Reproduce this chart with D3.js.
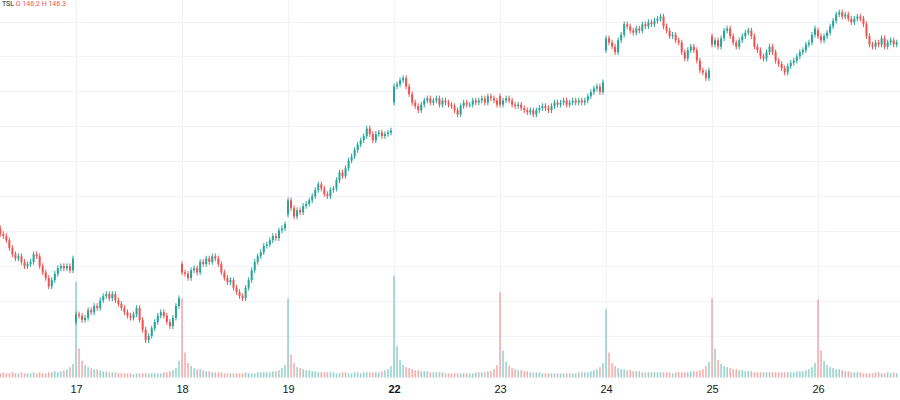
<!DOCTYPE html>
<html lang="en">
<head>
<meta charset="UTF-8">
<title>Candles</title>
<script src="https://d3js.org/d3.v7.min.js"></script>
<style>
  body { margin: 0; background: #fff; }
  svg { display: block; font-family: "Roboto", "Liberation Sans", sans-serif; }
  .grid line { stroke: #f0f3fa; stroke-width: 1; }
  .axis text { font-size: 11px; fill: #131722; }
  .axis path, .axis line { display: none; }
</style>
</head>
<body>
<svg width="900" height="400"></svg>
<script>
// day labels (16 is the cut-off day on the left)
var days = ["16", "17", "18", "19", "22", "23", "24", "25", "26"];
var dayOpens = [115.4, 102.0, 110.3, 117.4, 133.4, 134.3, 140.9, 142.9, 143.7];

var close16 = [114.6,114.3,113.7,112.6,111.7,111.1,111.4,110.6,110.0,110.3,110.6,111.7,111.4,110.0,109.1,108.3,107.1,108.0,108.9,109.7,110.0,109.7,110.0,109.4,111.1];
var close17 = [103.1,102.9,102.3,102.6,103.7,103.4,104.3,104.0,105.1,105.7,106.0,105.4,106.0,105.1,104.6,104.0,103.4,102.9,102.6,103.1,104.0,102.3,100.9,99.4,100.0,101.1,102.0,102.9,103.4,102.9,102.0,101.4,102.6,104.3,105.4];
var close18 = [109.1,108.9,108.3,109.4,109.7,109.1,110.6,110.3,111.1,110.6,111.4,111.1,110.3,109.1,108.3,107.7,108.0,106.9,106.3,105.7,105.4,106.9,108.0,109.4,110.6,111.4,112.0,112.9,113.1,113.7,114.3,114.0,115.1,115.4,116.0];
var close19 = [119.4,118.3,117.1,118.0,117.7,118.6,118.9,119.4,120.0,120.9,121.7,121.1,120.3,120.0,120.9,121.1,122.3,123.4,122.9,124.0,125.1,125.7,126.6,127.4,128.0,128.6,129.7,128.9,128.0,128.9,129.1,128.6,128.9,129.1,129.4];
var close22 = [135.7,136.0,136.6,136.9,135.7,134.6,133.4,132.9,132.3,133.1,133.7,134.0,133.4,133.7,134.0,133.1,133.7,133.4,133.1,132.9,132.3,131.7,132.9,133.4,133.1,133.1,133.7,133.4,133.7,134.0,133.4,134.3,134.0,133.7,133.1];
var close23 = [133.1,133.7,134.0,133.7,133.1,132.9,133.1,132.6,132.3,132.0,132.3,131.7,132.3,132.6,132.9,132.6,132.3,132.9,133.4,133.1,133.4,133.7,133.1,133.4,133.7,133.4,133.7,133.4,133.7,134.3,134.9,135.4,135.7,134.9,136.3];
var close24 = [142.6,142.0,141.4,140.6,142.3,143.1,144.6,144.3,143.7,143.4,144.0,143.7,144.6,144.3,144.9,144.6,145.1,145.4,145.7,144.3,143.7,142.9,143.1,142.3,142.0,140.6,139.7,140.9,141.4,140.9,139.4,138.0,137.7,136.9,138.0];
var close25 = [141.7,142.3,141.4,142.6,143.7,144.0,142.9,142.0,141.4,142.3,142.9,143.4,143.7,142.9,141.4,140.9,140.0,139.7,140.6,141.4,140.6,139.4,138.9,138.3,137.7,138.6,139.1,139.4,140.0,140.6,140.9,141.7,142.0,143.1,144.0];
var close26 = [142.9,142.3,142.9,143.4,144.3,145.1,146.0,146.3,145.7,146.0,145.4,144.9,145.4,145.7,145.4,144.6,142.9,141.7,141.4,142.0,141.7,142.6,141.4,142.0,142.3,141.7,142.0];

var vol16 = [4,5,4,4,5,4,4,5,4,4,4,5,4,5,4,4,5,5,6,5,6,7,8,10,13];
var vol17 = [92,28,16,12,10,9,8,8,7,6,6,5,5,5,4,4,4,4,4,3,4,4,4,4,4,4,4,4,4,5,5,6,7,9,16];
var vol18 = [76,24,14,11,9,8,8,7,6,6,5,5,5,5,4,4,4,4,4,4,4,5,4,4,4,5,5,5,5,5,6,6,7,9,12];
var vol19 = [76,22,14,10,9,8,7,7,6,6,5,5,5,5,5,5,4,4,5,5,4,4,5,5,4,5,5,5,5,5,5,6,7,8,11];
var vol22 = [98,30,17,12,10,9,8,7,7,6,6,6,5,5,5,5,5,4,4,4,4,4,4,4,4,4,4,5,5,5,5,6,6,8,12];
var vol23 = [82,26,15,11,9,8,7,7,6,6,5,5,5,5,4,4,4,4,4,4,4,4,4,4,4,4,5,5,5,5,6,7,8,10,14];
var vol24 = [66,24,14,11,9,8,8,7,7,6,6,6,5,5,5,5,5,5,5,5,5,5,4,5,5,5,5,5,6,6,6,7,8,11,15];
var vol25 = [76,28,17,13,11,10,9,8,8,7,7,6,6,6,5,5,5,5,5,5,5,5,5,5,5,5,5,5,6,6,6,7,8,10,14];
var vol26 = [75,26,16,12,10,9,8,8,7,6,6,5,5,5,5,4,4,4,4,5,5,4,4,5,4,5,4];

var priceGrid = [100, 105, 110, 115, 120, 125, 130, 135, 140, 145];

var closesByDay = [close16, close17, close18, close19, close22, close23, close24, close25, close26];
var volsByDay = [vol16, vol17, vol18, vol19, vol22, vol23, vol24, vol25, vol26];

var svg = d3.select("svg"),
    width = +svg.attr("width"),
    height = +svg.attr("height");

var up = "#26a69a", down = "#ef5350";
var wick = 0.4;

// build candle table
var candles = [], dayStarts = [];
closesByDay.forEach(function(cl, d) {
    dayStarts.push(candles.length);
    cl.forEach(function(c, j) {
        var o = j === 0 ? dayOpens[d] : cl[j - 1];
        candles.push({
            i: candles.length, o: o, c: c,
            h: Math.max(o, c) + wick, l: Math.min(o, c) - wick,
            v: volsByDay[d][j]
        });
    });
});

var x = d3.scaleLinear().domain([25, 270]).range([76, 818]);
var y = d3.scaleLinear().domain([100, 145]).range([336, 21.5]);
var yVol = d3.scaleLinear().domain([0, 100]).range([377.5, 273.5]);

var grid = svg.append("g").attr("class", "grid");
grid.selectAll(".h").data(priceGrid).enter().append("line")
    .attr("x1", 0).attr("x2", width)
    .attr("y1", function(d) { return Math.round(y(d)) + 0.5; })
    .attr("y2", function(d) { return Math.round(y(d)) + 0.5; });
grid.selectAll(".v").data(dayStarts.slice(1)).enter().append("line")
    .attr("y1", 0).attr("y2", 380)
    .attr("x1", function(d) { return Math.round(x(d)) + 0.5; })
    .attr("x2", function(d) { return Math.round(x(d)) + 0.5; });

// volume
svg.append("g").selectAll("rect").data(candles).enter().append("rect")
    .attr("x", function(d) { return x(d.i) - 0.75; })
    .attr("width", 1.5)
    .attr("y", function(d) { return yVol(d.v); })
    .attr("height", function(d) { return yVol(0) - yVol(d.v); })
    .attr("fill", function(d) { return d.c >= d.o ? up : down; })
    .attr("fill-opacity", 0.5);

// candles
var cg = svg.append("g").selectAll("g").data(candles).enter().append("g");
cg.append("line")
    .attr("x1", function(d) { return x(d.i); })
    .attr("x2", function(d) { return x(d.i); })
    .attr("y1", function(d) { return y(d.h); })
    .attr("y2", function(d) { return y(d.l); })
    .attr("stroke", function(d) { return d.c >= d.o ? up : down; })
    .attr("stroke-width", 1);
cg.append("rect")
    .attr("x", function(d) { return x(d.i) - 1; })
    .attr("width", 2)
    .attr("y", function(d) { return y(Math.max(d.o, d.c)); })
    .attr("height", function(d) { return Math.max(1, Math.abs(y(d.o) - y(d.c))); })
    .attr("fill", function(d) { return d.c >= d.o ? up : down; });

// time axis
svg.append("g")
    .attr("class", "axis")
    .attr("transform", "translate(0,380)")
    .call(d3.axisBottom(x)
        .tickValues(dayStarts.slice(1))
        .tickSize(0)
        .tickPadding(5)
        .tickFormat(function(d) { return days[dayStarts.indexOf(d)]; }))
    .selectAll("text")
    .attr("font-weight", function(d) { return days[dayStarts.indexOf(d)] === "22" ? "bold" : null; });

// small legend at the top
var legend = svg.append("text").attr("x", 2).attr("y", 6).attr("font-size", 7);
legend.append("tspan").attr("fill", "#131722").text("TSL ");
legend.append("tspan").attr("fill", down).text("O 146.2 H 146.3");
</script>
</body>
</html>
